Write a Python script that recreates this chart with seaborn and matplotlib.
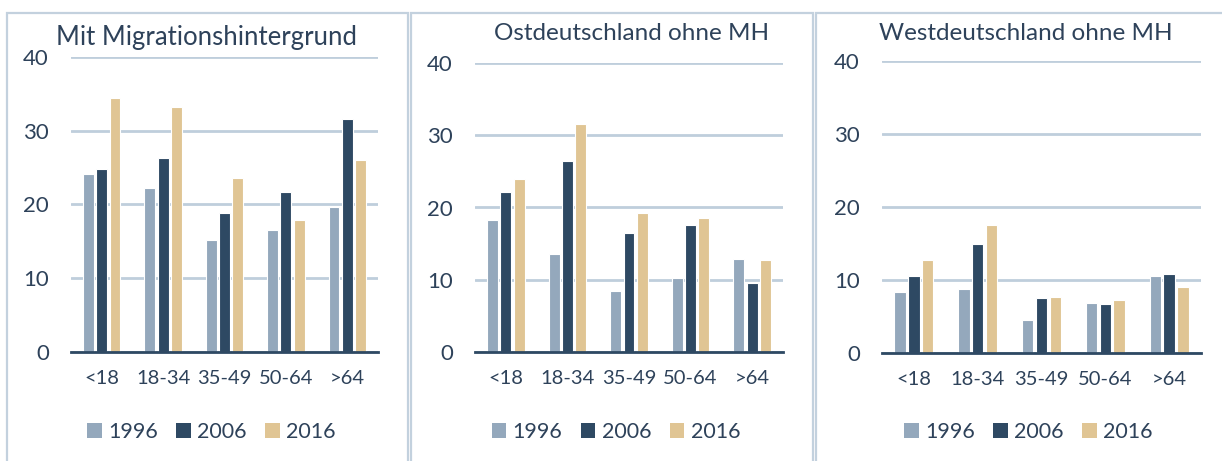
import pandas as pd
import seaborn as sns
import matplotlib.pyplot as plt
from matplotlib.patches import Rectangle

# Daten (Anteil in %)
age_groups = ["<18", "18-34", "35-49", "50-64", ">64"]
years = ["1996", "2006", "2016"]

mit_mh_1996 = [24.2, 22.3, 15.2, 16.5, 19.6]
mit_mh_2006 = [24.8, 26.3, 18.8, 21.7, 31.6]
mit_mh_2016 = [34.5, 33.2, 23.6, 17.9, 26.0]

ost_1996 = [18.3, 13.6, 8.4, 10.3, 12.9]
ost_2006 = [22.1, 26.4, 16.5, 17.6, 9.5]
ost_2016 = [23.9, 31.6, 19.2, 18.5, 12.8]

west_1996 = [8.3, 8.8, 4.5, 6.8, 10.5]
west_2006 = [10.5, 15.0, 7.6, 6.7, 10.8]
west_2016 = [12.7, 17.5, 7.7, 7.3, 9.0]

titles = ["Mit Migrationshintergrund", "Ostdeutschland ohne MH", "Westdeutschland ohne MH"]
panels = [
    (mit_mh_1996, mit_mh_2006, mit_mh_2016),
    (ost_1996, ost_2006, ost_2016),
    (west_1996, west_2006, west_2016),
]

TEXT = "#2E425A"
GRID = "#BFCEDC"
FRAME = "#C3D1DE"
palette = {"1996": "#94A8BC", "2006": "#2E4963", "2016": "#E0C594"}

sns.set_theme(style="white")
plt.rcParams["font.family"] = ["Lato", "DejaVu Sans"]

W, H = 1222, 461
fig = plt.figure(figsize=(W / 100, H / 100), dpi=100)

# Achsenpositionen in Pixeln: links, rechts, oben (=40), unten (=0)
axes_px = [(71, 378, 57, 352), (475, 783, 63, 352), (882, 1201, 61, 353)]
title_px = [(206, 37), (632, 34), (1026, 34)]
title_size = [18.5, 17.5, 17.5]
frames_px = [(7, 408), (411, 813), (816, 1240)]

for x0, x1 in frames_px:
    fig.patches.append(Rectangle((x0 / W, -0.05), (x1 - x0) / W, (H - 13) / H + 0.05,
                                 transform=fig.transFigure, fill=False,
                                 edgecolor=FRAME, linewidth=1.6))

for i, (vals, title) in enumerate(zip(panels, titles)):
    left, right, top, bottom = axes_px[i]
    ax = fig.add_axes([left / W, (H - bottom) / H, (right - left) / W, (bottom - top) / H])

    df = pd.DataFrame({
        "Alter": age_groups * 3,
        "Jahr": [y for y in years for _ in age_groups],
        "Wert": list(vals[0]) + list(vals[1]) + list(vals[2]),
    })
    sns.barplot(data=df, x="Alter", y="Wert", hue="Jahr", palette=palette, saturation=1,
                width=0.65, gap=0.18, edgecolor="white", linewidth=0.8, ax=ax)

    ax.set_ylim(0, 40)
    ax.set_xlim(-0.5, 4.5)
    ax.set_yticks([0, 10, 20, 30, 40])
    ax.yaxis.grid(True, color=GRID, linewidth=2)
    ax.set_axisbelow(True)
    ax.set_xlabel("")
    ax.set_ylabel("")
    for s in ["left", "right", "top"]:
        ax.spines[s].set_visible(False)
    ax.spines["bottom"].set_color("#2E4963")
    ax.spines["bottom"].set_linewidth(2)
    ax.spines["bottom"].set_zorder(5)
    ax.tick_params(axis="y", length=0, pad=16, labelsize=16, labelcolor=TEXT)
    ax.tick_params(axis="x", length=0, pad=13, labelsize=14.5, labelcolor=TEXT)

    leg_x = 0.5 - 13 / (right - left)
    ax.legend(loc="center", bbox_to_anchor=(leg_x, (bottom - 432) / (bottom - top)),
              ncol=3, frameon=False, fontsize=15.5, handlelength=0.68, handleheight=0.68,
              handletextpad=0.3, columnspacing=0.85, labelcolor=TEXT)
    for h in ax.get_legend().legend_handles:
        h.set_edgecolor("none")

    tx, ty = title_px[i]
    fig.text(tx / W, (H - ty) / H, title, ha="center", va="center",
             fontsize=title_size[i], color=TEXT)

fig.savefig("out.png", dpi=100)
